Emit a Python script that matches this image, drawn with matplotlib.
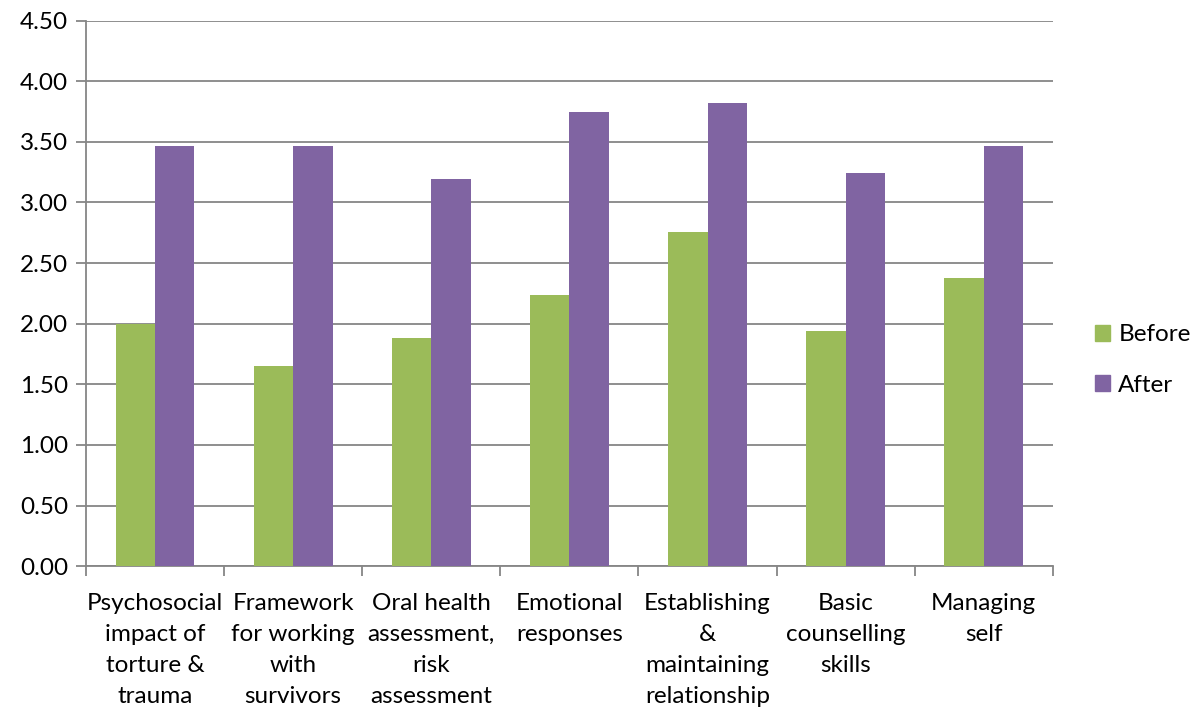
import numpy as np
import matplotlib.pyplot as plt
from matplotlib.patches import Patch

# Chart data
categories = ["Psychosocial\nimpact of\ntorture &\ntrauma",
              "Framework\nfor working\nwith\nsurvivors",
              "Oral health\nassessment,\nrisk\nassessment",
              "Emotional\nresponses",
              "Establishing\n&\nmaintaining\nrelationship",
              "Basic\ncounselling\nskills",
              "Managing\nself"]
before = [2.00, 1.65, 1.88, 2.24, 2.76, 1.94, 2.38]
after = [3.47, 3.47, 3.19, 3.75, 3.82, 3.24, 3.47]
y_ticks = [0, 0.5, 1.0, 1.5, 2.0, 2.5, 3.0, 3.5, 4.0, 4.5]

green = "#9BBB59"
purple = "#8064A2"
grid_col = "#868686"

plt.rcParams['font.family'] = ['Lato', 'DejaVu Sans']
plt.rcParams['font.size'] = 17.5

fig = plt.figure(figsize=(11.98, 7.13), dpi=100)
ax = fig.add_axes([0.0718, 0.206, 0.807, 0.765])

x = np.arange(len(categories))
w = 0.285
ax.bar(x - w / 2, before, w, color=green, zorder=3)
ax.bar(x + w / 2, after, w, color=purple, zorder=3)

ax.set_ylim(0, 4.5)
ax.set_xlim(-0.5, len(categories) - 0.5)
ax.set_yticks(y_ticks)
ax.set_yticklabels(["%.2f" % v for v in y_ticks])
ax.yaxis.grid(True, color=grid_col, linewidth=1.3, zorder=0)

# category labels centred, tick marks on the boundaries
ax.set_xticks(x)
ax.set_xticklabels(categories, linespacing=1.6, va="top")
ax.tick_params(axis="x", length=0, pad=19)
ax.set_xticks(np.arange(-0.5, len(categories)), minor=True)
ax.tick_params(axis="x", which="minor", length=7, color=grid_col, width=1.3)
ax.tick_params(axis="y", length=7, color=grid_col, width=1.3, pad=6)

for s in ["top", "right"]:
    ax.spines[s].set_visible(False)
for s in ["left", "bottom"]:
    ax.spines[s].set_color(grid_col)
    ax.spines[s].set_linewidth(1.3)

handles = [Patch(color=green, label="Before"), Patch(color=purple, label="After")]
fig.legend(handles=handles, loc="center left", bbox_to_anchor=(0.896, 0.495),
           frameon=False, handlelength=0.6, handleheight=0.6, handletextpad=0.35,
           labelspacing=1.2, fontsize=17.5)

fig.savefig("out.png", dpi=100)
